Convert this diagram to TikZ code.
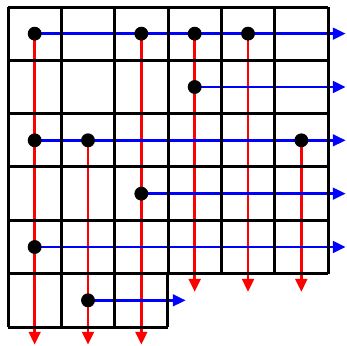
\documentclass[tikz,border=0pt]{standalone}
\usetikzlibrary{arrows.meta}
\begin{document}
\begin{tikzpicture}[line join=round,
	gridline/.style={line width=1.6pt},
	rowarrow/.style={blue,line width=1.3pt,-{Triangle[length=0.24cm,width=0.22cm]}},
	colarrow/.style={red,line width=1.3pt,-{Triangle[length=0.24cm,width=0.22cm]}},
	dot/.style={fill=black}]
	\useasboundingbox (-0.15,-0.34) rectangle (6.356,6.131);
	\def \xend{6.33}
	\def \yend{-0.33}
	% points (column, row) of the staircase
	\foreach \n/\c/\r in {a/1/1,b/3/1,c/4/1,d/5/1,e/4/2,f/1/3,g/2/3,h/6/3,i/3/4,j/1/5,k/2/6}
		\coordinate (\n) at (\c-0.5,6.5-\r);
	% columns down
	\draw[colarrow] (a)--(a|-0,\yend);
	\draw[colarrow] (g)--(g|-0,\yend);
	\draw[colarrow] (b)--(b|-0,\yend);
	\draw[colarrow] (c)--(c|-0,0.66);
	\draw[colarrow] (d)--(d|-0,0.66);
	\draw[colarrow] (h)--(h|-0,0.66);
	% rows right
	\draw[rowarrow] (a)--(a-|\xend,0);
	\draw[rowarrow] (e)--(e-|\xend,0);
	\draw[rowarrow] (f)--(f-|\xend,0);
	\draw[rowarrow] (i)--(i-|\xend,0);
	\draw[rowarrow] (j)--(j-|\xend,0);
	\draw[rowarrow] (k)--(k-|3.33,0);
	% grid
	\draw[gridline] (0,1) grid (6,6);
	\draw[gridline] (0,0) grid (3,1);
	\foreach \n in {a,b,c,d,e,f,g,h,i,j,k}
		\fill[dot] (\n) circle(0.13);
\end{tikzpicture}
\end{document}
